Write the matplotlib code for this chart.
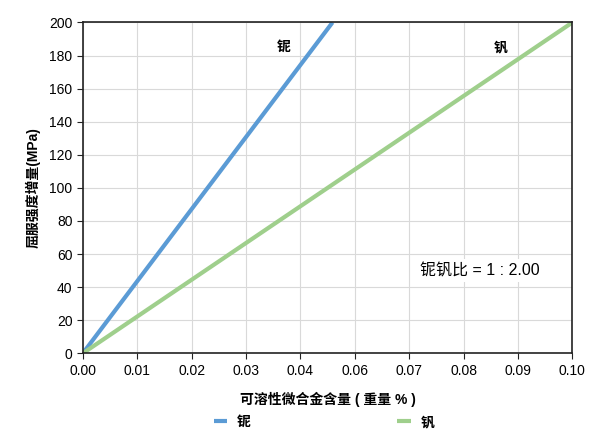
import numpy as np
import matplotlib.pyplot as plt
from matplotlib.ticker import FixedLocator, FuncFormatter

plt.rcParams['font.family'] = ['Liberation Sans', 'Noto Sans CJK SC', 'DejaVu Sans']

# data
nb_x = [0.0, 0.051]
nb_y = [0, 200]
v_x = [0.0, 0.10]
v_y = [0, 200]
series_names = ['铌', '钒']
ratio_text = '铌钒比 = 1 : 2.00'

fig = plt.figure(figsize=(6, 4.4), dpi=100)
ax = fig.add_axes([0.138, 0.197, 0.816, 0.752])

ax.plot(nb_x, nb_y, color='#5b9bd5', linewidth=3, label=series_names[0], solid_capstyle='butt')
ax.plot(v_x, v_y, color='#9fcf8c', linewidth=3, label=series_names[1], solid_capstyle='butt')

ax.set_xlim(0, 0.10)
ax.set_ylim(0, 200)
xt = np.arange(10) * 0.1 / 9
ax.xaxis.set_major_locator(FixedLocator(xt))
ax.xaxis.set_major_formatter(FuncFormatter(lambda v, p: '%.2f' % v))
ax.set_yticks(np.arange(0, 201, 20))
ax.grid(True, color='#d9d9d9', linewidth=0.8)
ax.set_axisbelow(True)
for s in ax.spines.values():
    s.set_color('#222222')
    s.set_linewidth(1.2)
ax.tick_params(labelsize=10, length=4, color='#222222')

ax.text(0.041, 185, '铌', fontsize=10, fontweight='bold', ha='center', va='center')
ax.text(0.0853, 185, '钒', fontsize=10, fontweight='bold', ha='center', va='center')
ax.text(0.081, 50, ratio_text, fontsize=11.5, ha='center', va='center',
        bbox=dict(facecolor='white', edgecolor='none', pad=3))

ax.set_xlabel('可溶性微合金含量 ( 重量 % )', fontsize=10, fontweight='bold', labelpad=10)
ax.set_ylabel('屈服强度增量(MPa)', fontsize=10, fontweight='bold', labelpad=6)

fig.legend(handles=ax.get_lines(), labels=series_names, loc='center',
           bbox_to_anchor=(0.54, 1 - 422 / 440), ncol=2, frameon=False,
           columnspacing=10.5, handlelength=1.0, handletextpad=0.7,
           prop={'weight': 'bold', 'size': 10})

fig.savefig('out.png', dpi=100)
